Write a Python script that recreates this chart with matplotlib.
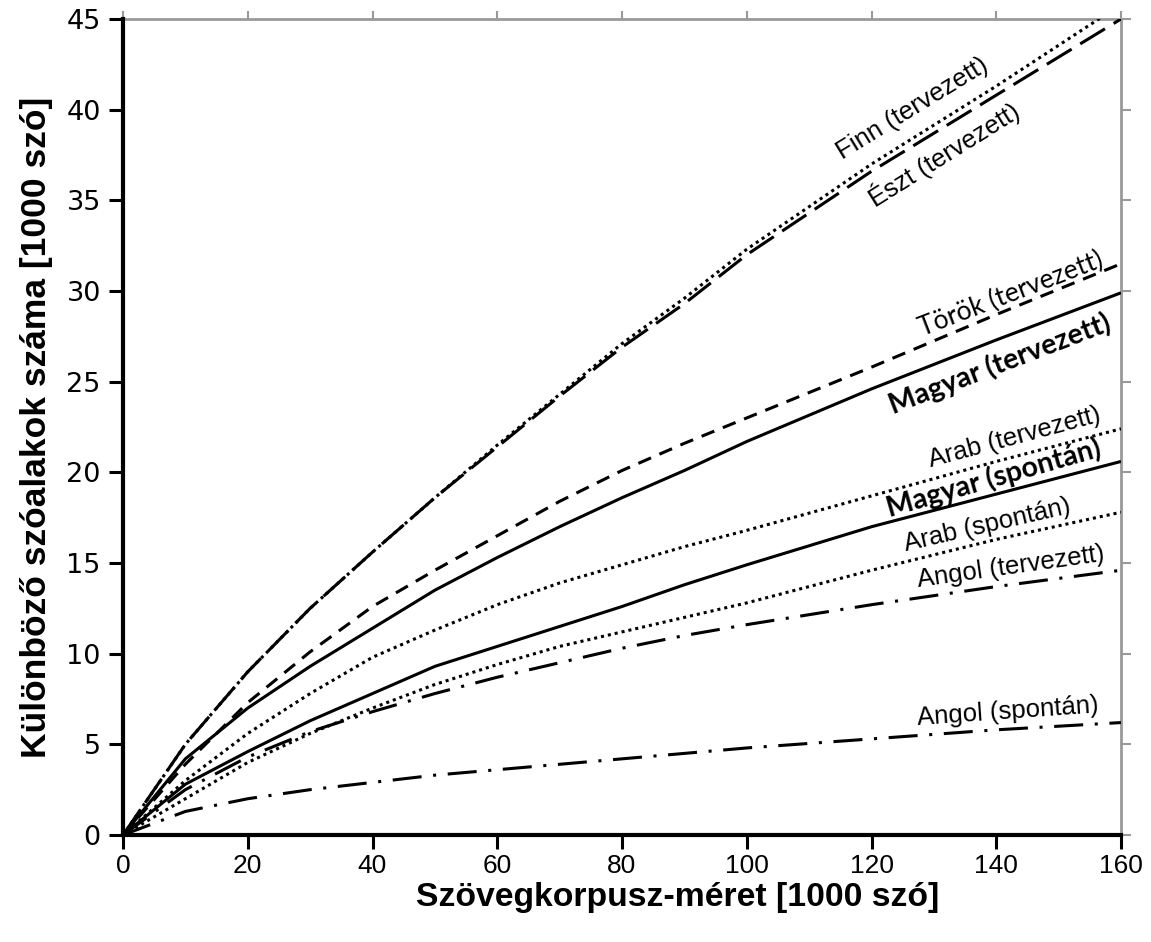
import matplotlib
matplotlib.use("Agg")
import matplotlib.pyplot as plt

# ---------------- data ----------------
corpus_size = [0, 10, 20, 30, 40, 50, 60, 70, 80, 90, 100, 120, 140, 160]

finn_tervezett = [0, 5.0, 9.0, 12.5, 15.6, 18.6, 21.5, 24.3, 27.1, 29.6, 32.3, 37.0, 41.3, 45.8]
eszt_tervezett = [0, 5.0, 9.0, 12.5, 15.6, 18.6, 21.4, 24.2, 26.9, 29.3, 32.0, 36.6, 40.8, 45.0]
torok_tervezett = [0, 3.9, 7.3, 10.1, 12.6, 14.6, 16.5, 18.4, 20.1, 21.6, 23.0, 25.8, 28.7, 31.5]
magyar_tervezett = [0, 4.2, 7.0, 9.3, 11.4, 13.5, 15.3, 17.0, 18.6, 20.1, 21.7, 24.6, 27.3, 29.9]
arab_tervezett = [0, 3.0, 5.6, 7.8, 9.8, 11.3, 12.7, 13.9, 14.9, 15.9, 16.8, 18.7, 20.6, 22.4]
magyar_spontan = [0, 2.8, 4.6, 6.3, 7.8, 9.3, 10.4, 11.5, 12.6, 13.8, 14.9, 17.0, 18.8, 20.6]
arab_spontan = [0, 2.0, 4.0, 5.6, 7.0, 8.3, 9.4, 10.4, 11.2, 12.0, 12.8, 14.6, 16.3, 17.8]
angol_tervezett = [0, 2.5, 4.3, 5.7, 6.8, 7.8, 8.7, 9.5, 10.3, 11.0, 11.6, 12.7, 13.7, 14.6]
angol_spontan = [0, 1.3, 2.0, 2.5, 2.9, 3.3, 3.6, 3.9, 4.2, 4.5, 4.8, 5.3, 5.8, 6.2]

series_labels = ["Finn (tervezett)", "Észt (tervezett)", "Török (tervezett)",
                 "Magyar (tervezett)", "Arab (tervezett)", "Magyar (spontán)",
                 "Arab (spontán)", "Angol (tervezett)", "Angol (spontán)"]

x_ticks = [0, 20, 40, 60, 80, 100, 120, 140, 160]
y_ticks = [0, 5, 10, 15, 20, 25, 30, 35, 40, 45]
x_label = "Szövegkorpusz-méret [1000 szó]"
y_label = "Különböző szóalakok száma [1000 szó]"

# ---------------- styling ----------------
SANS = ["Liberation Sans", "DejaVu Sans"]
CAL = ["Lato", "DejaVu Sans"]

dotted = (0, (1.0, 1.3))
dashed = (0, (4.5, 3.0))
longdash = (0, (9.5, 3.3))
dashdot = (0, (9.5, 3.8, 1.0, 3.8))

series = [
    (finn_tervezett, dotted),
    (eszt_tervezett, longdash),
    (torok_tervezett, dashed),
    (magyar_tervezett, "-"),
    (arab_tervezett, dotted),
    (magyar_spontan, "-"),
    (arab_spontan, dotted),
    (angol_tervezett, dashdot),
    (angol_spontan, dashdot),
]

# label placement (data coords), rotation, font family, weight, size
label_style = [
    (126.6, 40.05, 31.5, SANS, "normal", 18.5),
    (131.6, 37.5, 32.0, SANS, "normal", 18.5),
    (142.4, 29.8, 21.0, CAL, "normal", 19),
    (140.6, 26.0, 21.0, CAL, "bold", 20.5),
    (143.0, 21.9, 15.0, SANS, "normal", 18.5),
    (139.6, 19.7, 16.0, CAL, "bold", 20.5),
    (138.5, 17.1, 13.0, SANS, "normal", 18.5),
    (142.4, 14.8, 8.0, SANS, "normal", 18.5),
    (141.9, 6.8, 4.0, SANS, "normal", 18.5),
]

fig = plt.figure(figsize=(11.51, 9.42), dpi=100)
ax = fig.add_axes([123 / 1151, 1 - 835 / 942, (1121 - 123) / 1151, (835 - 19) / 942])

for (vals, ls) in series:
    ax.plot(corpus_size, vals, color="black", lw=2.2, linestyle=ls,
            dash_capstyle="butt", solid_capstyle="butt")

for text, (lx, ly, rot, fam, wt, fs) in zip(series_labels, label_style):
    ax.text(lx, ly, text, rotation=rot, rotation_mode="anchor", ha="center",
            va="center", fontsize=fs, family=fam, fontweight=wt, color="black")

ax.set_xlim(0, 160)
ax.set_ylim(0, 45)
ax.set_xticks(x_ticks)
ax.set_yticks(y_ticks)
ax.tick_params(axis="both", direction="out", length=10, width=2.2, color="black")
ax.tick_params(axis="x", labelsize=19, pad=4)
ax.tick_params(axis="y", labelsize=19.5, pad=6)
for lab in ax.get_xticklabels():
    lab.set_family(SANS)
for lab in ax.get_yticklabels():
    lab.set_family(["DejaVu Sans"])

for side in ["left", "bottom"]:
    ax.spines[side].set_linewidth(3)
    ax.spines[side].set_color("black")
    ax.spines[side].set_zorder(5)
ax.spines["top"].set_visible(False)
ax.spines["right"].set_visible(False)

sx = ax.secondary_xaxis("top")
sx.set_xticks(x_ticks)
sx.tick_params(direction="out", length=6, width=1.5, color="#999999", labeltop=False)
sx.spines["top"].set_color("#999999")
sx.spines["top"].set_linewidth(2)
sy = ax.secondary_yaxis("right")
sy.set_yticks(y_ticks)
sy.tick_params(direction="out", length=7, width=1.5, color="#999999", labelright=False)
sy.spines["right"].set_color("#999999")
sy.spines["right"].set_linewidth(2)

ax.set_xlabel(x_label, fontsize=24.3, fontweight="bold", family=SANS)
ax.set_ylabel(y_label, fontsize=25.5, fontweight="bold", family=SANS)
ax.xaxis.set_label_coords(0.556, -0.058)
ax.yaxis.set_label_coords(-0.07, 0.5)

fig.savefig("out.png", dpi=100)
